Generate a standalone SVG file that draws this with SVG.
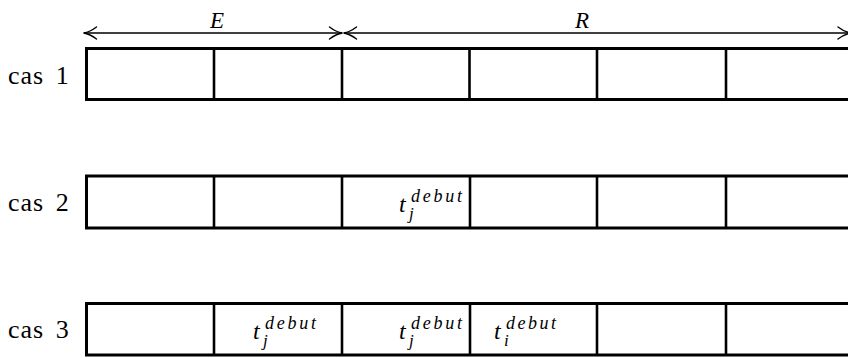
<svg xmlns="http://www.w3.org/2000/svg" width="848" height="358" viewBox="0 0 848 358">
<style>
.box{fill:none;stroke:#000;stroke-width:3}
.div{stroke:#000;stroke-width:2.6}
.lbl{font-size:26px;fill:#000;letter-spacing:1px;word-spacing:4px}
.m{font-style:italic;fill:#000}
.ax{stroke:#000;stroke-width:1.3;fill:none}
.hd{stroke:#000;stroke-width:1.4;fill:none;stroke-linecap:round}
</style>
<rect width="848" height="358" fill="#fff"/>
<g id="connectors">
<line class="ax" x1="84" y1="33" x2="342" y2="33"/>
<line class="ax" x1="344" y1="33" x2="850" y2="33"/>
<path class="hd" d="M96.5 27 Q90 32 83.5 33 Q90 34 96.5 39"/>
<path class="hd" d="M329.5 27 Q336 32 342.5 33 Q336 34 329.5 39"/>
<path class="hd" d="M356.5 27 Q350 32 343.5 33 Q350 34 356.5 39"/>
<path class="hd" d="M838 27 Q844.5 32 851 33 Q844.5 34 838 39"/>
</g>
<g font-family="Liberation Serif, DejaVu Serif, serif">
<g id="labelE"><text class="m" x="217" y="28" font-size="23" text-anchor="middle">E</text></g>
<g id="labelR"><text class="m" x="582" y="28" font-size="23" text-anchor="middle">R</text></g>
<g id="row1">
<text class="lbl" x="8" y="84">cas 1</text>
<rect class="box" x="86.5" y="48.5" width="780" height="51"/>
<line class="div" x1="214" y1="48" x2="214" y2="100"/>
<line class="div" x1="342" y1="48" x2="342" y2="100"/>
<line class="div" x1="469.5" y1="48" x2="469.5" y2="100"/>
<line class="div" x1="597" y1="48" x2="597" y2="100"/>
<line class="div" x1="726" y1="48" x2="726" y2="100"/>
</g>
<g id="row2">
<text class="lbl" x="8" y="211">cas 2</text>
<rect class="box" x="86.5" y="176" width="780" height="52"/>
<line class="div" x1="214" y1="176" x2="214" y2="228"/>
<line class="div" x1="342" y1="176" x2="342" y2="228"/>
<line class="div" x1="470" y1="176" x2="470" y2="228"/>
<line class="div" x1="597" y1="176" x2="597" y2="228"/>
<line class="div" x1="726" y1="176" x2="726" y2="228"/>
<g id="r2t1">
<text class="m" x="399" y="212" font-size="24">t</text>
<text class="m" x="411" y="201.5" font-size="18" textLength="51" lengthAdjust="spacing">debut</text>
<text class="m" x="409" y="218.5" font-size="17">j</text>
</g>
</g>
<g id="row3">
<text class="lbl" x="8" y="338">cas 3</text>
<rect class="box" x="86.5" y="303.5" width="780" height="51.5"/>
<line class="div" x1="214" y1="303" x2="214" y2="355"/>
<line class="div" x1="342" y1="303" x2="342" y2="355"/>
<line class="div" x1="470" y1="303" x2="470" y2="355"/>
<line class="div" x1="597" y1="303" x2="597" y2="355"/>
<line class="div" x1="726" y1="303" x2="726" y2="355"/>
<g id="r3t1">
<text class="m" x="253" y="339" font-size="24">t</text>
<text class="m" x="265" y="328.5" font-size="18" textLength="51" lengthAdjust="spacing">debut</text>
<text class="m" x="263" y="345.5" font-size="17">j</text>
</g>
<g id="r3t2">
<text class="m" x="399" y="339" font-size="24">t</text>
<text class="m" x="411" y="328.5" font-size="18" textLength="51" lengthAdjust="spacing">debut</text>
<text class="m" x="409" y="345.5" font-size="17">j</text>
</g>
<g id="r3t3">
<text class="m" x="494" y="339" font-size="24">t</text>
<text class="m" x="506" y="328.5" font-size="18" textLength="50" lengthAdjust="spacing">debut</text>
<text class="m" x="504" y="345.5" font-size="17">i</text>
</g>
</g>
</g>
</svg>
